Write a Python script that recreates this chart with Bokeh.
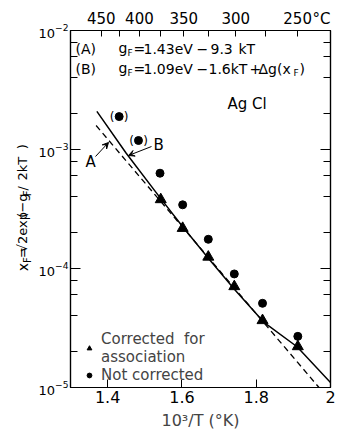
import math
from bokeh.plotting import figure
from bokeh.layouts import row
from bokeh.models import (LogAxis, LinearAxis, FixedTicker, CustomJSTickFormatter,
                          Label, Arrow, VeeHead, Legend, LegendItem, Range1d)
from bokeh.core.properties import value
from bokeh.embed import file_html
from bokeh.resources import INLINE

FONT = "DejaVu Sans"

# ---------------- data ----------------
inv_T_corrected = [1.543, 1.602, 1.671, 1.741, 1.817, 1.912]
xF_corrected = [3.80e-4, 2.18e-4, 1.25e-4, 7.06e-5, 3.66e-5, 2.21e-5]

inv_T_not_corrected = [1.431, 1.483, 1.541, 1.602, 1.671, 1.741, 1.817, 1.912]
xF_not_corrected = [1.89e-3, 1.19e-3, 6.32e-4, 3.43e-4, 1.76e-4, 9.0e-5, 5.1e-5, 2.69e-5]
bracketed = [0, 1]  # points drawn in parentheses

curve_A_invT = [1.369, 1.969]
curve_A_xF = [1.59e-3, 1.0e-5]

curve_B_invT = [1.371, 1.45, 1.54, 1.60, 1.67, 1.74, 1.82, 1.91, 2.0]
curve_B_xF = [2.09e-3, 9.3e-4, 3.98e-4, 2.29e-4, 1.23e-4, 6.76e-5, 3.55e-5, 2.2e-5, 1.1e-5]

x_ticks = [1.4, 1.6, 1.8, 2.0]
y_ticks = [1e-5, 1e-4, 1e-3, 1e-2]
y_minor = [m * 10.0 ** e for e in (-5, -4, -3) for m in (2, 4, 6, 8)]
celsius_labels = [450, 400, 350, 300, 250]
celsius_all_ticks = [450, 425, 400, 375, 350, 325, 300, 275, 250]

# ---------------- layout ----------------
W, H = 341, 433
LW = 33                      # width of the strip holding the y-axis title
L, R, T, B = 70, 330, 30, 387
X0, X1 = 1.3, 2.0
Y0, Y1 = 1e-5, 1e-2


def dx(px):
    return X0 + (px - L) / (R - L) * (X1 - X0)


def dy(py):
    return 10 ** (math.log10(Y1) - (py - T) / (B - T) * 3)


p = figure(width=W - LW, height=H, x_range=Range1d(X0, X1), y_range=Range1d(Y0, Y1),
           y_axis_type="log", output_backend="svg", toolbar_location=None,
           min_border_left=L - LW, min_border_right=W - R, min_border_top=T,
           min_border_bottom=H - B)
p.xgrid.visible = False
p.ygrid.visible = False
p.outline_line_color = "black"
p.outline_line_width = 1.2
p.background_fill_color = "white"
p.border_fill_color = "white"


def style_axis(ax, tick_in=9, minor_in=6, font_size="14px", standoff=4):
    ax.axis_line_color = "black"
    ax.axis_line_width = 1.2
    ax.major_tick_in = tick_in
    ax.major_tick_out = 0
    ax.minor_tick_in = minor_in
    ax.minor_tick_out = 0
    ax.major_tick_line_color = "black"
    ax.minor_tick_line_color = "black"
    ax.major_label_text_font = FONT
    ax.major_label_text_font_size = font_size
    ax.major_label_text_color = "black"
    ax.major_label_standoff = standoff


# left log axis
ya = p.yaxis[0]
ya.ticker = FixedTicker(ticks=y_ticks, minor_ticks=y_minor)
style_axis(ya, tick_in=10, minor_in=7, font_size="13px", standoff=2)

# right log axis (ticks only)
yr = LogAxis(ticker=FixedTicker(ticks=y_ticks, minor_ticks=y_minor),
             formatter=CustomJSTickFormatter(code="return ''"))
style_axis(yr, tick_in=10, minor_in=7)
p.add_layout(yr, "right")

# bottom axis
xa = p.xaxis[0]
xa.ticker = FixedTicker(ticks=x_ticks, minor_ticks=[])
style_axis(xa, tick_in=8, minor_in=0, font_size="16px", standoff=3)
xa.axis_label = "10³/T (°K)"
xa.axis_label_text_font = FONT
xa.axis_label_text_font_size = "16px"
xa.axis_label_text_font_style = "normal"
xa.axis_label_standoff = 5

# top axis in degrees Celsius: tick marks every 25 degC (drawn as minor ticks),
# labels every 50 degC plus the unit "°C" after the last one (unmarked major ticks)
unit_pos = dx(321)
top = LinearAxis(
    ticker=FixedTicker(ticks=[1000.0 / (c + 273.15) for c in celsius_labels] + [unit_pos],
                       minor_ticks=[1000.0 / (c + 273.15) for c in celsius_all_ticks]),
    formatter=CustomJSTickFormatter(
        args=dict(unit_pos=unit_pos),
        code="if (Math.abs(tick - unit_pos) < 1e-6) { return '°C' } "
             "return String(Math.round(1000/tick - 273.15))"))
style_axis(top, tick_in=0, minor_in=6, font_size="15px", standoff=3)
p.add_layout(top, "above")

# ---------------- curves ----------------
p.line(curve_A_invT, curve_A_xF, line_color="black", line_width=1.3, line_dash="6 4")
p.line(curve_B_invT, curve_B_xF, line_color="black", line_width=1.5)

# ---------------- points ----------------
tri = p.scatter(inv_T_corrected, xF_corrected, marker="triangle", size=11,
                fill_color="black", line_color="black")
circ = p.scatter(inv_T_not_corrected, xF_not_corrected, marker="circle", size=8,
                 fill_color="black", line_color="black")

bx = [inv_T_not_corrected[i] for i in bracketed]
by = [xF_not_corrected[i] for i in bracketed]
for txt, off in (("(", -7), (")", 7)):
    p.text(bx, by, text=[txt] * len(bx), x_offset=off, text_align="center",
           text_baseline="middle", text_font=value(FONT), text_font_size="12px",
           text_color="black")

# ---------------- legend ----------------
legend = Legend(items=[LegendItem(label="Corrected  for\nassociation", renderers=[tri]),
                       LegendItem(label="Not corrected", renderers=[circ])],
                location=(13, 3), border_line_color=None, background_fill_alpha=0,
                padding=0, margin=0, spacing=0, glyph_width=12, glyph_height=12,
                label_standoff=6, label_text_font=FONT, label_text_font_size="15px",
                label_text_line_height=1.1)
p.add_layout(legend, "center")


# ---------------- annotations ----------------
def lab(text, px, py, size="14px", align="left"):
    p.add_layout(Label(x=dx(px), y=dy(py), text=text, text_font=FONT,
                       text_font_size=size, text_color="black",
                       text_align=align, text_baseline="middle"))


# equations (each piece placed where it sits in the reference)
for txt, px, py, sz in [
    ("(A)", 75, 48, "14px"), ("g", 118, 47, "14px"), ("F", 127, 52, "9px"),
    ("=", 133, 48, "14px"), ("1.43eV", 143, 48, "14px"), ("−", 196, 48, "14px"),
    ("9.3", 210, 48, "14px"), ("kT", 238, 48, "14px"),
    ("(B)", 75, 68, "14px"), ("g", 118, 67, "14px"), ("F", 127, 72, "9px"),
    ("=", 133, 68, "14px"), ("1.09eV", 143, 68, "14px"), ("−", 196, 68, "14px"),
    ("1.6kT", 208, 68, "14px"), ("+", 249, 68, "14px"), ("Δg(x", 258, 68, "14px"),
    ("F", 293, 72, "9px"), (")", 299, 68, "14px"),
]:
    lab(txt, px, py, size=sz)

lab("Ag Cl", 227, 103, size="15px")

lab("A", 85, 161, size="15px")
lab("B", 153, 144, size="15px")
p.add_layout(Arrow(end=VeeHead(size=6, fill_color="black", line_color="black"),
                   x_start=dx(95), y_start=dy(156), x_end=dx(108), y_end=dy(142),
                   line_color="black", line_width=1))
p.add_layout(Arrow(end=VeeHead(size=6, fill_color="black", line_color="black"),
                   x_start=dx(151), y_start=dy(146), x_end=dx(128), y_end=dy(155),
                   line_color="black", line_width=1))

# ---------------- y-axis title strip (rotated, with subscripts) ----------------
lf = figure(width=LW, height=H, x_range=Range1d(0, LW), y_range=Range1d(0, H),
            output_backend="svg", toolbar_location=None, min_border=0,
            x_axis_location=None, y_axis_location=None)
lf.xgrid.visible = False
lf.ygrid.visible = False
lf.outline_line_color = None
lf.background_fill_color = "white"
lf.border_fill_color = "white"

# pieces: text, size, x-centre px, bottom (start) px
title_pieces = [("x", "14px", 22, 292), ("F", "10px", 27, 282), ("=", "13px", 22, 276),
                ("√2", "13px", 22, 269), ("exp", "13px", 22, 249), ("(−g", "13px", 22, 227),
                ("F", "10px", 27, 201), ("/", "13px", 22, 194), ("2kT", "13px", 22, 182),
                (")", "13px", 22, 144)]
for txt, sz, px, py in title_pieces:
    lf.text(x=[px], y=[H - py], text=[txt], angle=math.pi / 2, text_align="left",
            text_baseline="middle", text_font=value(FONT), text_font_size=sz,
            text_color="black")

layout = row(lf, p, spacing=0)
open("out.html", "w").write(file_html(layout, INLINE))
